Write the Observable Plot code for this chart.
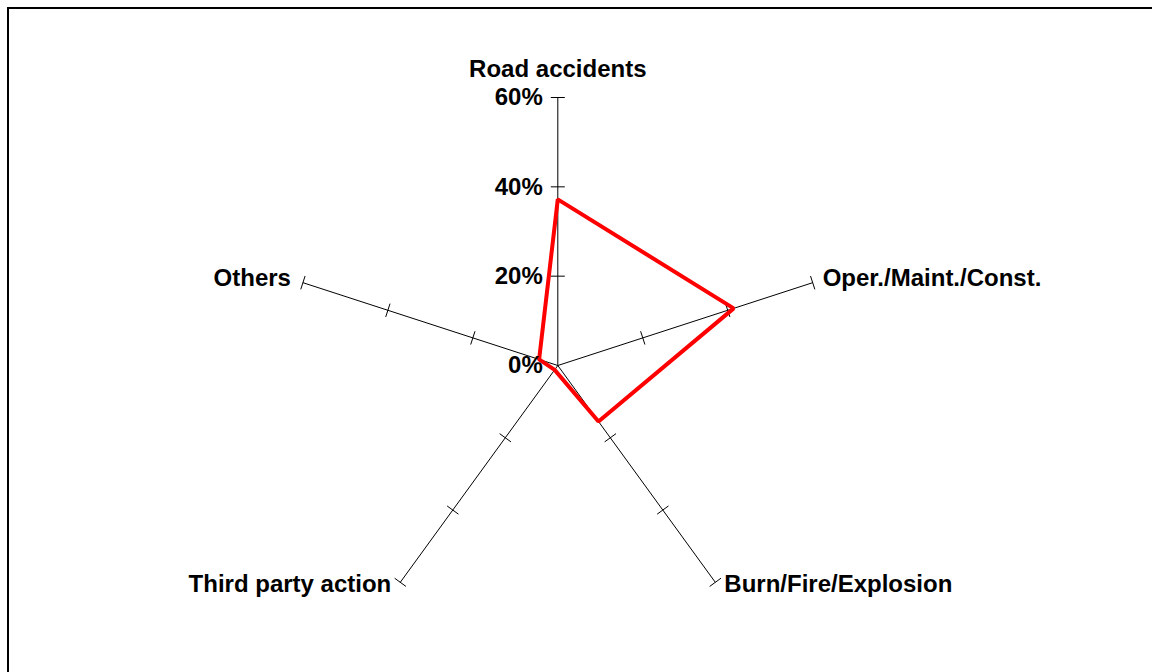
<!DOCTYPE html>
<html><head><meta charset="utf-8">
<script src="https://cdn.jsdelivr.net/npm/d3@7"></script>
<script src="https://cdn.jsdelivr.net/npm/@observablehq/plot@0.6"></script>
<style>
html,body{margin:0;padding:0;background:#fff;overflow:hidden;}
#chart{position:relative;width:1152px;height:672px;}
#chart svg{position:absolute;left:0;top:0;}
#border{position:absolute;left:7px;top:7px;width:2000px;height:2000px;border:2px solid #000;pointer-events:none;}
</style></head>
<body><div id="chart"><div id="border"></div></div>
<script>
const categories = ["Road accidents", "Oper./Maint./Const.", "Burn/Fire/Explosion", "Third party action", "Others"];
const values = [37.2, 41.4, 15.5, 1.2, 4.4];
const tickValues = [0, 20, 40, 60];
const tickLabels = ["0%", "20%", "40%", "60%"];
const maxValue = 60;

const W = 1152, H = 672, cx = 557.3, cy = 365, R = 268;
const k = R / maxValue;
const n = categories.length;
const ang = i => i * 2 * Math.PI / n;
const px = (i, r) => r * Math.sin(ang(i));
const py = (i, r) => r * Math.cos(ang(i));
const half = 7 / k;

const axes = categories.map((c, i) => ({cat: c, i}));
const ticks = axes.flatMap(a => tickValues.filter(v => v > 0).map(v => ({i: a.i, v})));
const pts = values.map((v, i) => ({i, v, cat: categories[i]}));

const font = {fontWeight: "bold", fontSize: 24};
function label(i, anchor, dx, dy) {
  return Plot.text([axes[i]], {
    x: d => px(d.i, maxValue), y: d => py(d.i, maxValue), text: d => d.cat,
    textAnchor: anchor, dx, dy, ...font
  });
}

const chart = Plot.plot({
  width: W, height: H, margin: 0,
  style: {fontFamily: "'Liberation Sans', Arial, sans-serif", background: "transparent"},
  x: {domain: [-cx / k, (W - cx) / k], range: [0, W], axis: null},
  y: {domain: [-(H - cy) / k, cy / k], range: [H, 0], axis: null},
  marks: [
    Plot.link(axes, {x1: d => 0, y1: d => 0, x2: d => px(d.i, maxValue), y2: d => py(d.i, maxValue), stroke: "black", strokeWidth: 1}),
    Plot.link(ticks, {
      x1: d => px(d.i, d.v) + half * Math.cos(ang(d.i)), y1: d => py(d.i, d.v) - half * Math.sin(ang(d.i)),
      x2: d => px(d.i, d.v) - half * Math.cos(ang(d.i)), y2: d => py(d.i, d.v) + half * Math.sin(ang(d.i)),
      stroke: "black", strokeWidth: 1
    }),
    Plot.line(pts, {x: d => px(d.i, d.v), y: d => py(d.i, d.v), curve: "linear-closed", stroke: "#ff0000", strokeWidth: 4, strokeLinejoin: "miter"}),
    Plot.text(tickValues, {x: d => 0, y: d => d, text: (d, j) => tickLabels[j], textAnchor: "end", dx: -15, dy: 0, ...font}),
    label(0, "middle", 0, -28),
    label(1, "start", 10, -4),
    label(2, "start", 9, 2),
    label(3, "end", -9, 2),
    label(4, "end", -12, -4)
  ]
});
document.getElementById("chart").prepend(chart);
</script>
</body></html>
